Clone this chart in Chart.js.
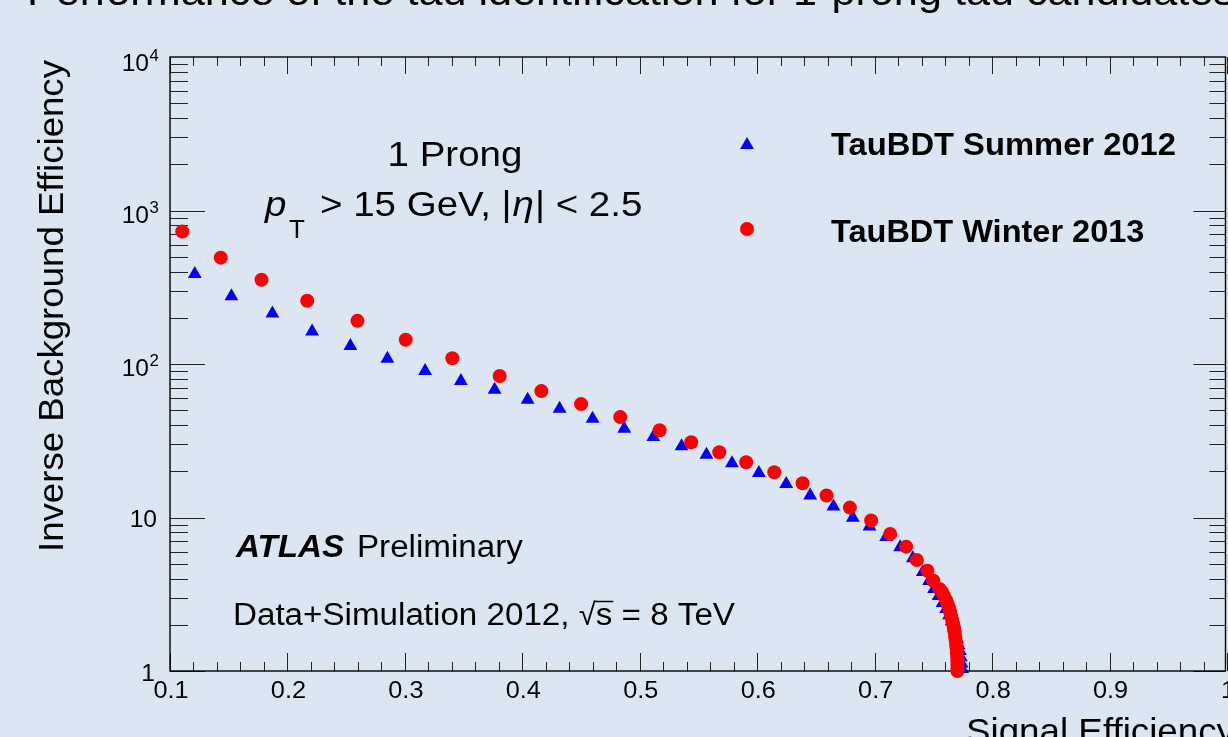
<!DOCTYPE html>
<html>
<head>
<meta charset="utf-8">
<title>Tau identification performance, 1-prong</title>
<script src="https://cdn.jsdelivr.net/npm/chart.js@4/dist/chart.umd.min.js"></script>
<style>
  html, body { margin: 0; padding: 0; background: #dce6f2; overflow: hidden; }
  canvas { display: block; }
</style>
</head>
<body>
<canvas id="roc" width="1228" height="737"></canvas>
<script>
// TauBDT Winter 2013 (red circles): signal efficiency vs inverse background efficiency
const winterEff = [
  0.1104, 0.1432, 0.1779, 0.2168, 0.2596, 0.3007, 0.3404, 0.3807, 0.4162, 0.4500,
  0.4834, 0.5169, 0.5438, 0.5677, 0.5906, 0.6145, 0.6386, 0.6590, 0.6789, 0.6970,
  0.7132, 0.7268, 0.7359, 0.7449, 0.7500, 0.7553, 0.7574, 0.7591, 0.7608, 0.7621,
  0.7634, 0.7643, 0.7651, 0.7660, 0.7668, 0.7675, 0.7681, 0.7685, 0.7689, 0.7694,
  0.7697, 0.7700, 0.7702, 0.7704, 0.7704, 0.7705, 0.7705
];
const winterRej = [
  729, 493, 354, 258, 191, 144, 109, 83.5, 66.6, 54.8,
  45.1, 37.0, 30.9, 26.6, 22.9, 19.7, 16.7, 13.9, 11.6, 9.55,
  7.82, 6.46, 5.29, 4.50, 3.87, 3.42, 3.27, 3.08, 2.90, 2.73,
  2.57, 2.42, 2.28, 2.14, 2.02, 1.90, 1.79, 1.69, 1.59, 1.49,
  1.41, 1.32, 1.25, 1.17, 1.11, 1.04, 1.0
];

// TauBDT Summer 2012 (blue triangles)
const summerEff = [
  0.1211, 0.1523, 0.1872, 0.2210, 0.2536, 0.2851, 0.3172, 0.3477, 0.3764, 0.4045,
  0.4317, 0.4598, 0.4868, 0.5115, 0.5356, 0.5568, 0.5785, 0.6014, 0.6247, 0.6451,
  0.6649, 0.6814, 0.6956, 0.7098, 0.7217, 0.7325, 0.7410, 0.7464, 0.7506, 0.7545,
  0.7579, 0.7609, 0.7634, 0.7655, 0.7672, 0.7689, 0.7702, 0.7715, 0.7726, 0.7734,
  0.7740, 0.7745
];
const summerRej = [
  386, 276, 213, 163, 131, 108, 90, 77.6, 68, 58.5,
  51.1, 44, 37.8, 33.5, 29.1, 25.6, 22.6, 19.5, 16.5, 13.9,
  11.8, 9.95, 8.73, 7.45, 6.41, 5.43, 4.42, 3.86, 3.42, 3.08,
  2.77, 2.53, 2.31, 2.11, 1.93, 1.76, 1.61, 1.47, 1.35, 1.23,
  1.12, 1.03
];

// axis ticks
const xTickValues = [0.1, 0.2, 0.3, 0.4, 0.5, 0.6, 0.7, 0.8, 0.9, 1.0];
const xTickLabels = ['0.1', '0.2', '0.3', '0.4', '0.5', '0.6', '0.7', '0.8', '0.9', '1'];
const yTickValues = [1, 10, 100, 1000, 10000];
const yTickLabels = [['1', ''], ['10', ''], ['10', '2'], ['10', '3'], ['10', '4']];

const legendItems = ['TauBDT Summer 2012', 'TauBDT Winter 2013'];

const FONT = "'Liberation Sans', Arial, Helvetica, sans-serif";

const toPoints = (xs, ys) => xs.map((x, i) => ({ x, y: ys[i] }));

// draw text with an optional horizontal stretch, returns the drawn width
const drawText = (ctx, str, x, y, font, opts = {}) => {
  ctx.save();
  ctx.font = font;
  const w = ctx.measureText(str).width;
  const sx = opts.width ? opts.width / w : (opts.sx || 1);
  ctx.translate(x, y);
  if (opts.rotate) ctx.rotate(opts.rotate);
  ctx.scale(sx, 1);
  ctx.textAlign = opts.align || 'left';
  ctx.textBaseline = 'alphabetic';
  ctx.fillStyle = '#000';
  ctx.fillText(str, 0, 0);
  ctx.restore();
  return w * sx;
};

// ROOT style frame: inward ticks on all four sides
const frame = {
  id: 'rootFrame',
  beforeDatasetsDraw(chart) {
    const { ctx, chartArea: a, scales: { x, y } } = chart;
    ctx.save();
    ctx.strokeStyle = '#222';
    ctx.lineWidth = 1;
    ctx.beginPath();
    // x ticks, minor every 0.02
    for (let i = 0; i <= 45; i++) {
      const v = 0.1 + i * 0.02;
      const px = Math.round(x.getPixelForValue(v)) + 0.5;
      const major = i % 5 === 0;
      ctx.moveTo(px, a.bottom);
      ctx.lineTo(px, a.bottom - (major ? 18 : 9));
      ctx.moveTo(px, a.top);
      ctx.lineTo(px, a.top + (major ? 17 : 9));
    }
    // y ticks, log decades with 2..9 minors
    for (let d = 0; d < 4; d++) {
      for (let m = 1; m <= 9; m++) {
        const v = m * Math.pow(10, d);
        const py = Math.round(y.getPixelForValue(v)) + 0.5;
        const major = m === 1;
        ctx.moveTo(a.left, py);
        ctx.lineTo(a.left + (major ? 35 : 18), py);
        ctx.moveTo(a.right - 1.5, py);
        ctx.lineTo(a.right - 1.5 - (major ? 32 : 16), py);
      }
    }
    ctx.stroke();

    ctx.strokeStyle = '#000';
    ctx.lineWidth = 1.4;
    ctx.strokeRect(a.left, a.top, a.right - a.left - 1.5, a.bottom - a.top);
    ctx.restore();
  },
  afterDraw(chart) {
    const { ctx, scales: { x, y } } = chart;
    const tickFont = `23px ${FONT}`;
    const supFont = `16px ${FONT}`;

    xTickValues.forEach((v, i) => {
      drawText(ctx, xTickLabels[i], x.getPixelForValue(v) + 1, 698, tickFont, { align: 'center', sx: 1.1 });
    });

    yTickValues.forEach((v, i) => {
      const py = y.getPixelForValue(v);
      const [base, sup] = yTickLabels[i];
      if (!sup) {
        drawText(ctx, base, i === 0 ? 155 : 157, py + 9.5, tickFont, { align: 'right', sx: 1.07 });
      } else {
        const shift = v === 10000 ? 14 : 12;
        drawText(ctx, base, 149, py + shift, tickFont, { align: 'right', sx: 1.07 });
        drawText(ctx, sup, 149.5, py + shift - 10, supFont, { sx: 1.05 });
      }
    });

    // axis titles
    drawText(ctx, 'Signal Efficiency', 966, 743, `35px ${FONT}`, { sx: 1.05 });
    drawText(ctx, 'Inverse Background Efficiency', 63, 552, `35px ${FONT}`, { rotate: -Math.PI / 2, width: 492 });

    // page title
    drawText(ctx, 'Performance of the tau identification for 1-prong tau candidates', 27, 5, `40px ${FONT}`, { sx: 1.08 });

    // selection text
    drawText(ctx, '1 Prong', 455, 166, `35px ${FONT}`, { align: 'center', sx: 1.1 });
    drawText(ctx, 'p', 265, 216, `italic 35px ${FONT}`, { sx: 1.1 });
    drawText(ctx, 'T', 289, 238, `26px ${FONT}`, { sx: 1.0 });
    let cx = 320;
    cx += drawText(ctx, '> 15 GeV, |', cx, 216, `35px ${FONT}`, { sx: 1.1 });
    cx += drawText(ctx, 'η', cx + 1, 216, `italic 35px ${FONT}`, { sx: 1.1 }) + 2;
    drawText(ctx, '| < 2.5', cx, 216, `35px ${FONT}`, { sx: 1.1 });

    // experiment label
    drawText(ctx, 'ATLAS', 236, 556.5, `italic bold 31px ${FONT}`, { sx: 1.07 });
    drawText(ctx, 'Preliminary', 357, 556.5, `31px ${FONT}`, { sx: 1.07 });

    let dx = 233;
    dx += drawText(ctx, 'Data+Simulation 2012, ', dx, 625, `31px ${FONT}`, { sx: 1.07 });
    dx += drawText(ctx, '√', dx, 625, `31px ${FONT}`, { sx: 1.0 });
    const sW = drawText(ctx, 's', dx, 625, `31px ${FONT}`, { sx: 1.07 });
    ctx.save();
    ctx.strokeStyle = '#000';
    ctx.lineWidth = 1.5;
    ctx.beginPath();
    ctx.moveTo(dx - 1, 601.5);
    ctx.lineTo(dx + sW + 1, 601.5);
    ctx.stroke();
    ctx.restore();
    dx += sW;
    drawText(ctx, ' = 8 TeV', dx, 625, `31px ${FONT}`, { sx: 1.07 });

    // legend
    const h = Chart.helpers;
    ctx.save();
    ctx.fillStyle = '#0000ff';
    h.drawPoint(ctx, { pointStyle: 'triangle', radius: 8, borderWidth: 0, rotation: 0 }, 747, 145);
    ctx.fillStyle = '#ff0000';
    h.drawPoint(ctx, { pointStyle: 'circle', radius: 7, borderWidth: 0, rotation: 0 }, 747, 229);
    ctx.restore();
    drawText(ctx, legendItems[0], 831, 155, `bold 31px ${FONT}`, { width: 345 });
    drawText(ctx, legendItems[1], 831, 241.5, `bold 31px ${FONT}`, { sx: 345 / 329 });
  }
};

new Chart(document.getElementById('roc'), {
  type: 'scatter',
  data: {
    datasets: [
      {
        label: legendItems[1],
        data: toPoints(winterEff, winterRej),
        pointStyle: 'circle',
        pointRadius: 7,
        pointBorderWidth: 0,
        backgroundColor: '#ff0000',
        borderColor: '#ff0000',
        clip: false
      },
      {
        label: legendItems[0],
        data: toPoints(summerEff, summerRej),
        pointStyle: 'triangle',
        pointRadius: 8,
        pointBorderWidth: 0,
        backgroundColor: '#0000ff',
        borderColor: '#0000ff',
        clip: false
      }
    ]
  },
  options: {
    responsive: false,
    animation: false,
    devicePixelRatio: 1,
    layout: { autoPadding: false, padding: { left: 170, top: 57, right: 1, bottom: 66 } },
    scales: {
      x: { type: 'linear', min: 0.1, max: 1.0, display: false },
      y: { type: 'logarithmic', min: 1, max: 10000, display: false }
    },
    plugins: {
      legend: { display: false },
      tooltip: { enabled: false }
    }
  },
  plugins: [frame]
});
</script>
</body>
</html>
